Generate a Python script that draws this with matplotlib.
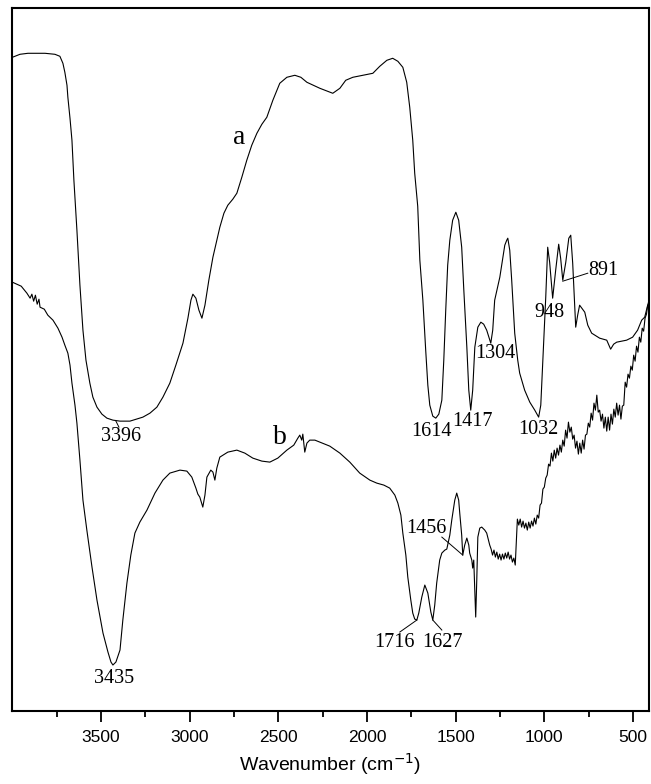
import matplotlib.pyplot as plt
import numpy as np

# spectrum a: wavenumber (cm-1) and transmittance (a.u.)
wn_a = [4000, 3957, 3912, 3816, 3760, 3732, 3715, 3704, 3692, 3687, 3675, 3664,
        3653, 3636, 3619, 3602, 3585, 3563, 3546, 3523, 3495, 3467, 3433, 3393,
        3337, 3264, 3224, 3185, 3151, 3112, 3078, 3038, 3010, 2993, 2982, 2965,
        2948, 2931, 2914, 2892, 2869, 2830, 2807, 2785, 2757, 2734, 2706, 2678,
        2650, 2621, 2593, 2565, 2531, 2492, 2452, 2407, 2373, 2339, 2266, 2193,
        2153, 2120, 2080, 2024, 1967, 1928, 1888, 1855, 1826, 1798, 1776, 1759,
        1742, 1731, 1714, 1702, 1685, 1669, 1657, 1646, 1629, 1612, 1595, 1578,
        1567, 1556, 1545, 1533, 1517, 1499, 1483, 1466, 1454, 1437, 1426, 1415,
        1404, 1392, 1375, 1358, 1342, 1325, 1302, 1291, 1280, 1251, 1223, 1212,
        1206, 1195, 1184, 1167, 1150, 1139, 1111, 1082, 1054, 1032, 1020, 1009,
        992, 981, 970, 953, 936, 919, 908, 896, 879, 862, 851, 840, 823, 812,
        801, 772, 755, 733, 688, 648, 626, 609, 592, 536, 502, 474, 451, 434,
        417, 406]
t_a = [654, 657, 658, 658, 657, 655, 648, 639, 626, 614, 593, 571,
       531, 481, 426, 381, 351, 328, 314, 304, 297, 293, 291, 290,
       290, 294, 298, 304, 314, 328, 346, 368, 393, 411, 417, 413,
       401, 393, 406, 431, 454, 484, 498, 506, 512, 518, 534, 551,
       566, 578, 587, 594, 611, 628, 634, 636, 634, 629, 623, 618,
       623, 631, 634, 636, 638, 645, 651, 653, 650, 644, 629, 604,
       571, 538, 505, 451, 411, 361, 326, 306, 295, 293, 297, 311,
       351, 401, 446, 471, 491, 499, 491, 464, 421, 364, 321, 301,
       321, 364, 384, 389, 387, 381, 368, 381, 411, 434, 466, 471,
       473, 461, 431, 378, 351, 338, 321, 309, 301, 294, 306, 348,
       414, 464, 449, 413, 441, 467, 453, 431, 449, 473, 476, 448, 384, 396,
       406, 399, 386, 378, 373, 371, 362, 367, 369, 371, 374, 381, 391, 394,
       406, 413]

# spectrum b
wn_b = [4000, 3950, 3918, 3900, 3890, 3880, 3870, 3860, 3850, 3844, 3820, 3800,
        3771, 3743, 3720, 3704, 3687, 3675, 3664, 3647, 3636, 3619, 3602, 3580,
        3551, 3523, 3489, 3461, 3444, 3433, 3416, 3393, 3377, 3354, 3332, 3309,
        3281, 3241, 3196, 3151, 3112, 3055, 3016, 2988, 2965, 2954, 2943, 2926,
        2914, 2903, 2881, 2869, 2858, 2847, 2830, 2785, 2734, 2689, 2644, 2593,
        2548, 2503, 2452, 2413, 2390, 2379, 2368, 2362, 2351, 2339, 2323, 2294,
        2266, 2210, 2153, 2097, 2041, 1984, 1945, 1905, 1872, 1843, 1826, 1809,
        1798, 1781, 1770, 1753, 1742, 1731, 1719, 1708, 1691, 1674, 1657, 1640,
        1629, 1618, 1607, 1590, 1578, 1561, 1550, 1533, 1522, 1505, 1494, 1483,
        1477, 1466, 1460, 1449, 1437, 1426, 1421, 1409, 1404, 1398, 1392, 1387,
        1381, 1375, 1364, 1353, 1336, 1325, 1308,
        1300, 1292, 1284, 1276, 1268, 1260, 1252, 1244, 1236, 1228, 1220, 1212,
        1204, 1196, 1188, 1180, 1172, 1164, 1158, 1152, 1144, 1136, 1128, 1120,
        1112, 1104, 1096, 1088, 1080, 1072, 1064, 1056, 1048, 1040, 1032, 1024,
        1016, 1008,
        1000, 992, 984, 976, 968, 960, 952, 944, 936, 928, 920, 912, 904, 896,
        888, 880, 872, 864, 856, 848, 840, 832, 824, 816, 808, 800, 792, 784,
        776, 768, 760, 752, 744, 736, 728, 720, 712, 704, 696, 688, 680, 672,
        664, 656, 648, 640, 632, 624, 616, 608, 600, 592, 584, 576, 568, 560,
        552, 544, 536, 528, 520, 512, 504, 496, 488, 480, 472, 464, 456, 448,
        440, 432, 424, 417]
t_b = [429, 425, 418, 413, 417, 410, 416, 407, 412, 404, 402, 396,
       391, 383, 374, 366, 358, 346, 328, 306, 288, 251, 211, 181,
       144, 111, 78, 59, 49, 46, 49, 61, 91, 128, 156, 178,
       189, 201, 218, 231, 238, 241, 240, 234, 223, 217, 214, 204,
       216, 234, 241, 239, 231, 243, 254, 259, 261, 258, 253, 250,
       249, 253, 261, 266, 273, 276, 271, 277, 259, 268, 271, 271,
       269, 265, 258, 249, 238, 231, 228, 226, 223, 216, 208, 196,
       178, 156, 134, 111, 98, 92, 91, 98, 114, 126, 118, 99,
       91, 106, 128, 151, 158, 161, 162, 176, 191, 211, 218, 211,
       198, 176, 156, 166, 173, 166, 158, 151, 143, 151, 121, 94,
       131, 174, 183, 184, 181, 178, 166,
       162, 156, 161, 154, 159, 152, 157, 151, 157, 152, 158, 153,
       159, 152, 156, 149, 153, 146, 170, 192, 186, 192, 184, 190,
       183, 188, 181, 189, 183, 190, 185, 193, 187, 196, 193, 206,
       208, 222,
       224, 233, 236, 247, 245, 258, 250, 261, 253, 263, 256, 266, 259, 271,
       265, 281, 273, 289, 279, 284, 272, 276, 263, 270, 257, 268, 258, 271,
       262, 276, 277, 288, 284, 298, 291, 308, 301, 316, 299, 301, 290, 297,
       283, 294, 280, 294, 281, 297, 287, 302, 294, 308, 296, 306, 292, 305,
       306, 329, 324, 337, 333, 345, 341, 356, 350, 365, 359, 374, 369, 383,
       380, 393, 397, 406]

# peak labels and leader lines
peak_labels = ["3396", "3435", "1614", "1417", "1304", "1032", "948", "891",
               "1456", "1716", "1627"]
label_wn = [3388, 3427, 1635, 1404, 1274, 1032, 970, 665, 1663, 1843, 1573]
label_t = [275, 33, 280, 290, 358, 282, 399, 441, 183, 69, 69]
leaders = {
    "3396": ([3416, 3399], [290, 284]),
    "891": ([896, 755], [430, 438]),
    "1456": ([1578, 1460], [174, 156]),
    "1716": ([1815, 1719], [79, 91]),
    "1627": ([1629, 1578], [91, 81]),
}

fig = plt.figure(figsize=(6.51, 7.84), dpi=100)
ax = fig.add_axes([0.019, 0.0931, 0.9773, 0.8963])

ax.plot(wn_a, t_a, color="black", lw=0.8)
ax.plot(wn_b, t_b, color="black", lw=0.8)

serif = "Liberation Serif"
for txt, x, y in zip(peak_labels, label_wn, label_t):
    ax.text(x, y, txt, ha="center", va="center", fontsize=14.5, family=serif)
    if txt in leaders:
        lx, ly = leaders[txt]
        ax.plot(lx, ly, color="black", lw=0.7)

ax.text(2723, 574, "a", ha="center", va="center", fontsize=20, family=serif)
ax.text(2492, 274, "b", ha="center", va="center", fontsize=20, family=serif)

ax.set_xlim(4000, 412)
ax.set_ylim(0, 703)
ax.set_xticks([3500, 3000, 2500, 2000, 1500, 1000, 500])
ax.set_xticks(np.arange(3750, 400, -500), minor=True)
ax.set_yticks([])
ax.tick_params(axis="x", which="major", direction="out", length=8, width=1.3,
               labelsize=12.5, pad=6)
ax.tick_params(axis="x", which="minor", direction="out", length=4.5, width=1.3)
for lab in ax.get_xticklabels():
    lab.set_family("Liberation Sans")
for sp in ax.spines.values():
    sp.set_linewidth(1.5)

ax.set_xlabel("Wavenumber (cm$^{-1}$)", fontsize=14, family="Liberation Sans",
              labelpad=4)

fig.savefig("out.png", dpi=100)
